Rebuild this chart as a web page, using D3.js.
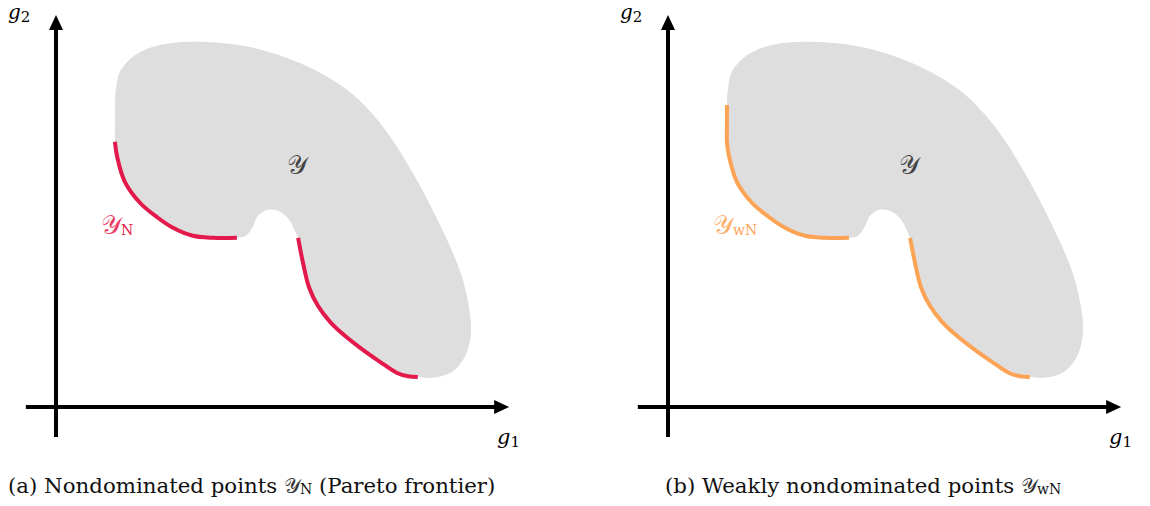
<!DOCTYPE html>
<html>
<head>
<meta charset="utf-8">
<script src="https://cdn.jsdelivr.net/npm/d3@7"></script>
<style>
  body { margin: 0; background: #fff; }
  svg { display: block; }
</style>
</head>
<body>
<svg id="chart" width="1150" height="506"></svg>
<script>
// outline of the feasible set Y, in (g1, g2) units, cut into pieces
// the part that is only weakly nondominated (vertical left edge)
const weakEdge = [[1.31, 7.55], [1.31, 7.08]]
// nondominated, left piece
const frontierLeft = [[1.31, 6.63], [1.36, 6.25], [1.53, 5.63], [1.87, 5.10], [2.24, 4.75],
  [2.60, 4.48], [3.04, 4.28], [3.49, 4.23], [4.02, 4.23]]
// the little notch between both pieces
const notch = [[4.22, 4.28], [4.36, 4.48], [4.49, 4.78], [4.71, 4.93], [4.98, 4.88],
  [5.20, 4.65], [5.33, 4.35]]
// nondominated, right piece
const frontierRight = [[5.38, 4.23], [5.49, 3.60], [5.62, 3.00], [5.82, 2.53], [6.09, 2.13],
  [6.42, 1.78], [6.76, 1.48], [7.20, 1.13], [7.58, 0.85], [7.82, 0.77], [8.04, 0.75]]
// rest of the boundary going round the top back to the left edge
const outerEdge = [[8.36, 0.73], [8.76, 0.85], [9.02, 1.13], [9.18, 1.55], [9.22, 2.10],
  [9.04, 3.18], [8.69, 4.18], [7.93, 5.85], [7.20, 7.10], [6.47, 7.93], [5.42, 8.60],
  [4.31, 9.00], [3.20, 9.13], [2.31, 9.05], [1.76, 8.80], [1.42, 8.38], [1.33, 7.93]]

const panelNames = ['a', 'b']
const captionText = ['Nondominated points', 'Weakly nondominated points']
const captionTail = [' (Pareto frontier)', '']
const setSubscript = ['N', 'wN']
const frontColors = ['#e3194b', '#fda356']

const svg = d3.select('#chart')

const x = d3.scaleLinear().domain([0, 10]).range([56, 506])
const y = d3.scaleLinear().domain([0, 9.8]).range([407, 15])

const line = d3.line().x(d => x(d[0])).y(d => y(d[1]))
const outline = weakEdge.concat(frontierLeft, notch, frontierRight, outerEdge)

const serif = "'DejaVu Serif', serif"
const script = "'DejaVu Serif', 'DejaVu Sans', serif"

panelNames.forEach((name, i) => {
  const weak = i === 1
  const g = svg.append('g').attr('transform', `translate(${i * 612}, 0)`)

  // the set itself
  g.append('path')
    .attr('d', line.curve(d3.curveCatmullRomClosed)(outline))
    .attr('fill', '#dedede')

  // frontier
  const pieces = weak ? [weakEdge.concat(frontierLeft), frontierRight] : [frontierLeft, frontierRight]
  g.selectAll('path.front')
    .data(pieces)
    .join('path')
    .attr('class', 'front')
    .attr('d', d => line.curve(d3.curveCatmullRom)(d))
    .attr('fill', 'none')
    .attr('stroke', frontColors[i])
    .attr('stroke-width', 4)

  // axes with arrow heads
  const x0 = x(0), y0 = y(0)
  const xEnd = x(10.07), yEnd = y(9.8)
  g.append('line')
    .attr('x1', x(-0.67)).attr('x2', xEnd - 10)
    .attr('y1', y0).attr('y2', y0)
    .attr('stroke', '#000').attr('stroke-width', 4)
  g.append('line')
    .attr('x1', x0).attr('x2', x0)
    .attr('y1', y(-0.75)).attr('y2', yEnd + 10)
    .attr('stroke', '#000').attr('stroke-width', 4)
  g.append('path')
    .attr('d', `M${xEnd},${y0}L${xEnd - 15},${y0 - 7}L${xEnd - 15},${y0 + 7}Z`)
  g.append('path')
    .attr('d', `M${x0},${yEnd}L${x0 - 7},${yEnd + 15}L${x0 + 7},${yEnd + 15}Z`)

  // axis names
  const g2 = g.append('text').attr('x', 8).attr('y', 19)
    .attr('font-family', serif).attr('font-size', 20)
  g2.append('tspan').attr('font-style', 'italic').text('g')
  g2.append('tspan').attr('font-size', 15).attr('dy', 3).text('2')
  const g1 = g.append('text').attr('x', 497).attr('y', 444)
    .attr('font-family', serif).attr('font-size', 21)
  g1.append('tspan').attr('font-style', 'italic').text('g')
  g1.append('tspan').attr('font-size', 15).attr('dy', 3).text('1')

  // name of the set
  g.append('text')
    .attr('x', 297).attr('y', 174)
    .attr('text-anchor', 'middle')
    .attr('font-family', script).attr('font-size', 26)
    .attr('fill', '#444')
    .text('𝒴')

  const lab = g.append('text')
    .attr('x', 101).attr('y', 234)
    .attr('font-family', script).attr('font-size', 26)
    .attr('fill', frontColors[i])
  lab.append('tspan').attr('fill-opacity', 0.85).text('𝒴')
  lab.append('tspan').attr('font-family', serif).attr('font-size', 14).attr('dy', 1).text(setSubscript[i])

  // caption
  const cap = g.append('text')
    .attr('x', i === 0 ? 8 : 53).attr('y', 493)
    .attr('font-family', serif).attr('font-size', 21.3)
    .attr('fill', '#111')
  cap.append('tspan').text(`(${name}) ${captionText[i]} `)
  cap.append('tspan').attr('font-family', script).attr('fill', '#333').text('𝒴')
  cap.append('tspan').attr('font-size', 14).attr('dy', 1).text(setSubscript[i])
  cap.append('tspan').attr('dy', -1).text(captionTail[i])
})
</script>
</body>
</html>
